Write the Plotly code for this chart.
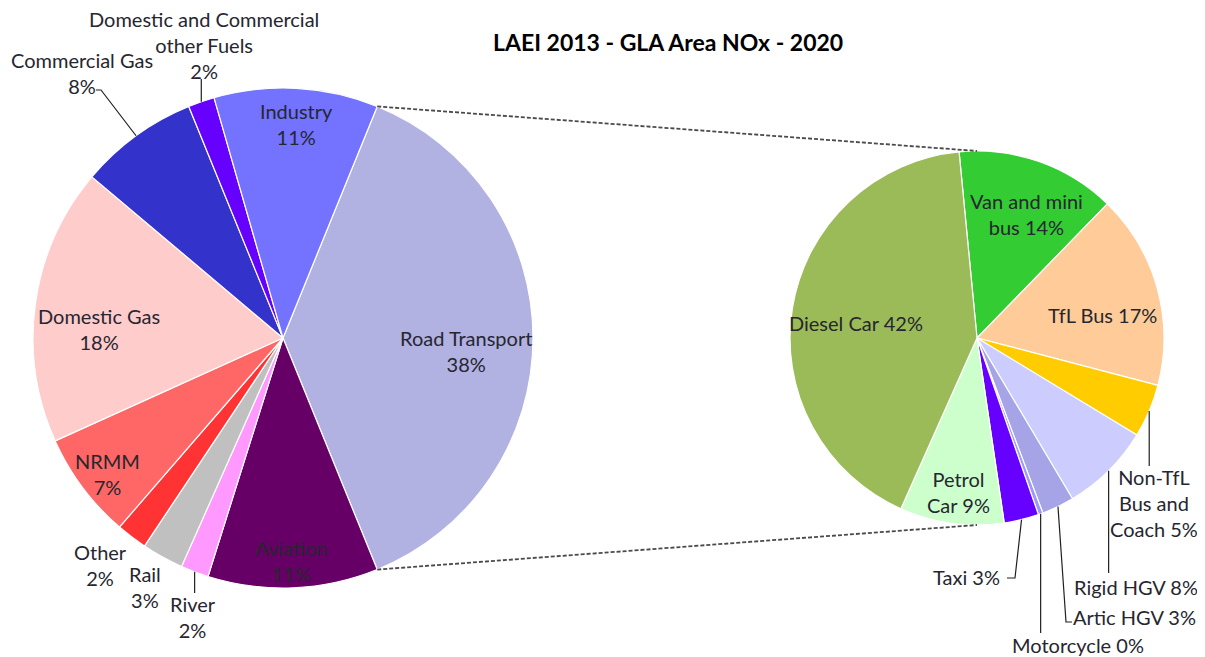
import math
import plotly.graph_objects as go

W, H = 1205, 657

# ---------------- data ----------------
main_labels = ["Road Transport", "Aviation", "River", "Rail", "Other", "NRMM",
               "Domestic Gas", "Commercial Gas", "Domestic and Commercial other Fuels", "Industry"]
main_values = [37.7, 11.0, 1.8, 2.7, 2.0, 6.9, 17.9, 7.7, 1.7, 10.6]

road_labels = ["Van and mini bus", "TfL Bus", "Non-TfL Bus and Coach", "Rigid HGV", "Artic HGV",
               "Motorcycle", "Taxi", "Petrol Car", "Diesel Car"]
road_values = [13.8, 16.8, 4.6, 7.8, 2.8, 0.4, 3.0, 9.0, 41.8]

title_text = "LAEI 2013 - GLA Area NOx - 2020"

# ---------------- style ----------------
main_colors = ["#b1b1e2", "#660066", "#ff99ff", "#c0c0c0", "#ff3333", "#ff6666",
               "#ffcccc", "#3333cc", "#6600ff", "#7373ff"]
road_colors = ["#33cc33", "#ffcc99", "#ffcc00", "#ccccff", "#a6a3e6",
               "#9999ff", "#6600ff", "#ccffcc", "#9bbb59"]

FONT = "Lato"
TXT = "#262630"
LABEL_SIZE = 20
OFF = 8                              # page offset of the plot in the browser (px)

L_C, L_R = (283, 338), 250          # main pie centre / radius (screen px)
R_C, R_R = (977, 338), 187          # secondary pie centre / radius (screen px)
R_ROT = -5.5                         # secondary pie rotation

# main pie: split slice (first) centred at 3 o'clock
L_ROT = 90 - 180 * main_values[0] / sum(main_values)


def paper(x, y):
    return (x - OFF) / W, 1 - (y - OFF) / H


def domain(c, r):
    x0, y1 = paper(c[0] - r, c[1] - r)
    x1, y0 = paper(c[0] + r, c[1] + r)
    return dict(x=[x0, x1], y=[y0, y1])


def slice_mids(values, rot):
    tot = sum(values)
    mids, acc = [], 0.0
    for v in values:
        mids.append(rot + 360 * (acc + v / 2) / tot)
        acc += v
    return mids


def polar(c, r, ang):
    a = math.radians(ang)
    return c[0] + r * math.sin(a), c[1] - r * math.cos(a)


def pct(values, v):
    return f"{int(100 * v / sum(values) + 0.5)}%"


fig = go.Figure()
fig.add_trace(go.Pie(labels=main_labels, values=main_values, sort=False, direction="clockwise",
                     rotation=L_ROT, domain=domain(L_C, L_R), textinfo="none", hoverinfo="label+percent",
                     marker=dict(colors=main_colors, line=dict(color="white", width=1.2)),
                     showlegend=False))
fig.add_trace(go.Pie(labels=road_labels, values=road_values, sort=False, direction="clockwise",
                     rotation=R_ROT, domain=domain(R_C, R_R), textinfo="none", hoverinfo="label+percent",
                     marker=dict(colors=road_colors, line=dict(color="white", width=1.2)),
                     showlegend=False))

# ---------------- label layout (text position, template) ----------------
main_label_pos = {
    "Road Transport": (466, 351, "c", "{l}<br>{p}"),
    "Aviation": (291, 561, "c", "{l}<br>{p}"),
    "River": (193, 617, "c", "{l}<br>{p}"),
    "Rail": (145, 587, "c", "{l}<br>{p}"),
    "Other": (100, 565, "c", "{l}<br>{p}"),
    "NRMM": (107, 474, "c", "{l}<br>{p}"),
    "Domestic Gas": (99, 329, "c", "{l}<br>{p}"),
    "Commercial Gas": (82, 73, "c", "{l}<br>{p}"),
    "Domestic and Commercial other Fuels": (204, 45, "c", "Domestic and Commercial<br>other Fuels<br>{p}"),
    "Industry": (296, 124, "c", "{l}<br>{p}"),
}
road_label_pos = {
    "Van and mini bus": (1026, 214, "c", "Van and mini<br>bus {p}"),
    "TfL Bus": (1102, 315, "c", "{l} {p}"),
    "Non-TfL Bus and Coach": (1154, 503, "c", "Non-TfL<br>Bus and<br>Coach {p}"),
    "Rigid HGV": (1136, 587, "c", "{l} {p}"),
    "Artic HGV": (1071, 617, "l", "{l} {p}"),
    "Motorcycle": (1078, 645, "c", "{l} {p}"),
    "Taxi": (1002, 577, "r", "{l} {p}"),
    "Petrol Car": (958, 492, "c", "Petrol<br>Car {p}"),
    "Diesel Car": (856, 323, "c", "{l} {p}"),
}
# leader lines: extra points after the slice-edge anchor (screen px)
main_leaders = {
    "Commercial Gas": [(101, 90), (96, 90)],
    "Domestic and Commercial other Fuels": [(None, 79)],
    "River": [(None, 593)],
}
road_leaders = {
    "Non-TfL Bus and Coach": [(None, 466)],
    "Rigid HGV": [(None, 573)],
    "Artic HGV": [(1066, 622), (1072, 622)],
    "Motorcycle": [(None, 633)],
    "Taxi": [(1015, 578), (1007, 578)],
}

anns, shapes = [], []
xa = {"c": "center", "l": "left", "r": "right"}


def add_labels(labels, values, rot, c, r, pos, leaders):
    mids = slice_mids(values, rot)
    for lab, v, m in zip(labels, values, mids):
        x, y, al, tpl = pos[lab]
        px, py = paper(x, y)
        anns.append(dict(x=px, y=py, xref="paper", yref="paper", showarrow=False,
                         xanchor=xa[al], yanchor="middle", align=xa[al],
                         text=tpl.format(l=lab, p=pct(values, v)),
                         font=dict(family=FONT, size=LABEL_SIZE, color=TXT)))
        if lab in leaders:
            ax, ay = polar(c, r, m)
            pts = [(ax, ay)]
            for (lx, ly) in leaders[lab]:
                pts.append((ax if lx is None else lx, ly))
            path = "M " + " L ".join(f"{paper(a, b)[0]:.5f},{paper(a, b)[1]:.5f}" for a, b in pts)
            shapes.append(dict(type="path", xref="paper", yref="paper", path=path,
                               line=dict(color="#202020", width=1.2)))


add_labels(main_labels, main_values, L_ROT, L_C, L_R, main_label_pos, main_leaders)
add_labels(road_labels, road_values, R_ROT, R_C, R_R, road_label_pos, road_leaders)

# connector lines between split slice edges and the secondary pie
split_ang = 360 * main_values[0] / sum(main_values)
top_l = polar(L_C, L_R, L_ROT)
bot_l = polar(L_C, L_R, L_ROT + split_ang)
top_r = (R_C[0], R_C[1] - R_R)
bot_r = (R_C[0], R_C[1] + R_R)
for a, b in [(top_l, top_r), (bot_l, bot_r)]:
    x0, y0 = paper(*a)
    x1, y1 = paper(*b)
    shapes.append(dict(type="line", xref="paper", yref="paper", x0=x0, y0=y0, x1=x1, y1=y1,
                       line=dict(color="#4a4a4a", width=1.8, dash="4px,2px")))

tx, ty = paper(668, 42)
anns.append(dict(x=tx, y=ty, xref="paper", yref="paper", showarrow=False, xanchor="center",
                 yanchor="middle", text=f"<b>{title_text}</b>",
                 font=dict(family=FONT, size=23, color="#000000")))

fig.update_layout(width=W, height=H, autosize=False, margin=dict(l=0, r=0, t=0, b=0),
                  paper_bgcolor="white", plot_bgcolor="white",
                  annotations=anns, shapes=shapes)

fig.write_html("out.html")
